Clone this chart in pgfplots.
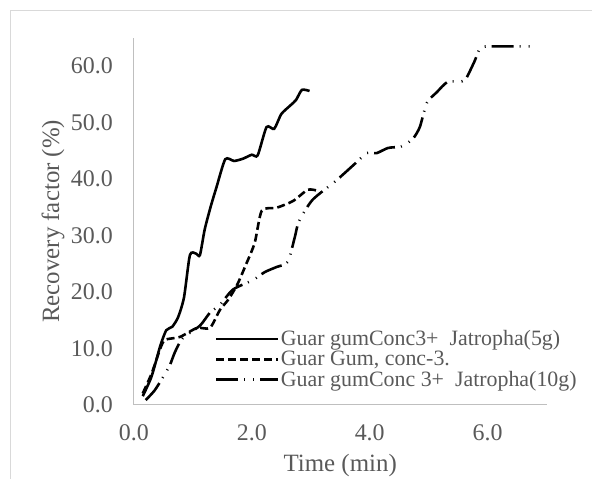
\documentclass[border=0pt]{standalone}
\usepackage{pgfplots}
\pgfplotsset{compat=1.18}
\usepackage{fontspec}
\setmainfont{Liberation Serif}
\definecolor{txtgray}{HTML}{595959}
\definecolor{axgray}{HTML}{BFBFBF}
\definecolor{framegray}{HTML}{D9D9D9}
\begin{document}
\begin{tikzpicture}
\begin{axis}[
    scale only axis,
    width=413bp, height=367bp,
    xmin=0, xmax=7, ymin=0, ymax=65,
    axis x line*=bottom, axis y line*=left,
    axis line style={axgray, line width=1pt},
    xtick={0,2,4,6}, ytick={0,10,...,60},
    major tick length=0pt,
    tick label style={font=\fontsize{24}{28}\selectfont, text=txtgray, inner sep=0pt},
    /pgf/number format/.cd, fixed, fixed zerofill, precision=1, assume math mode=true,
    /pgfplots/.cd,
    xticklabel style={anchor=center, yshift=-28bp},
    yticklabel style={anchor=east, xshift=-21bp},
    xlabel={Time (min)}, ylabel={Recovery factor (\%)},
    label style={font=\fontsize{25}{29}\selectfont, text=txtgray, inner sep=0pt},
    xlabel style={at={(axis description cs:0.5,-0.166)}, anchor=center},
    ylabel style={at={(axis description cs:-0.196,0.5)}, anchor=center},
    legend style={at={(rel axis cs:0.196,0.208)}, anchor=north west, draw=none,
        fill=none, font=\fontsize{22}{24}\selectfont, text=txtgray,
        row sep=0bp, inner sep=0pt},
    legend cell align=left,
    legend image code/.code={\draw[#1, line width=2.8pt] (0cm,0cm) -- (0.85in,0cm);},
    every axis plot/.append style={black, line width=2.6pt, smooth, tension=0.4},
    clip=false,
]
\addplot[solid] coordinates {
(0.15,1.5) (0.3,5) (0.45,10.5) (0.55,13.2) (0.65,13.8) (0.75,15.5) (0.85,19)
(0.95,26.5) (1.05,26.8) (1.12,26.5) (1.2,31) (1.3,35) (1.4,38.5) (1.55,43.5)
(1.7,43.2) (1.85,43.6) (2.0,44.3) (2.1,44.2) (2.25,49.2) (2.38,48.9) (2.5,51.5)
(2.65,53) (2.75,54) (2.85,55.8) (2.98,55.6)
};
\addlegendentry{Guar gumConc3+\ \ Jatropha(5g)}
\addplot[dash pattern=on 8bp off 4bp] coordinates {
(0.15,2) (0.3,5.5) (0.45,10) (0.53,11.5) (0.78,12) (1.07,13.6) (1.29,13.6)
(1.46,16.8) (1.6,18.6) (1.75,21.2) (1.9,24.8) (2.05,28.7) (2.17,34.4)
(2.42,34.9) (2.7,36.1) (2.95,38.1) (3.12,37.9)
};
\addlegendentry{Guar Gum, conc-3.}
\addplot[dash pattern=on 22bp off 6bp on 1bp off 8bp on 1bp off 6bp] coordinates {
(0.2,0.8) (0.35,2.5) (0.49,4.8) (0.61,7) (0.7,9.4) (0.83,11.8) (1.12,14)
(1.29,16.3) (1.46,17.7) (1.68,20.4) (2.02,22.1) (2.22,23.5) (2.42,24.4)
(2.61,25.3) (2.73,29.7) (2.8,32.5) (3.03,36.3) (3.44,39.8) (3.78,43)
(3.95,44.6) (4.12,44.6) (4.31,45.5) (4.54,45.8) (4.73,47.1) (4.85,49.2)
(4.97,53.5) (5.14,55.4) (5.32,57.2) (5.56,57.3) (5.64,57.9) (5.78,60.9)
(5.88,63.3) (6.07,63.5) (6.32,63.5) (6.75,63.5)
};
\addlegendentry{Guar gumConc 3+\ \ Jatropha(10g)}
\end{axis}
\draw[framegray, line width=1pt] (current axis.south west) ++(-123bp,-74bp) -- ++(0,468bp) -- ++(581bp,0);
\path (current axis.south west) ++(-134bp,-74bp) rectangle ++(592bp,479bp);
\end{tikzpicture}
\end{document}
